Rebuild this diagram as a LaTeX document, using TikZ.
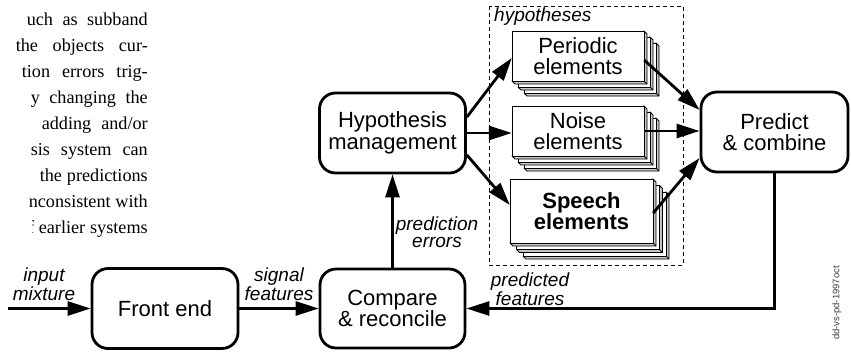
\documentclass[tikz,border=0pt]{standalone}
\usepackage{fontspec}
\setmainfont{Liberation Serif}
\setsansfont{Liberation Sans}
\usetikzlibrary{arrows.meta}
\newcommand\slab[4]{%
  \filldraw[fill=gray!45, line width=0.9pt, line join=round] (#3,#2) -- ++(3,3) -- ++(0,#4-#2) -- ++(#1-#3,0) -- (#1,#4) -- cycle;
  \draw[line width=0.9pt] (#3,#4) -- ++(3,3);
  \filldraw[fill=white, line width=0.9pt] (#1,#2) rectangle (#3,#4);}
\tikzset{
  rbox/.style={draw, line width=2.8pt, rounded corners=16pt, fill=white, font=\sffamily\fontsize{22}{21.5}\selectfont, align=center, inner sep=0pt},
  conn/.style={line width=2.8pt, -{Triangle[length=23pt,width=14pt]}},
  lbl/.style={font=\sffamily\itshape\fontsize{19}{16.5}\selectfont, align=center, inner sep=0pt},
  ftext/.style={font=\sffamily\fontsize{22}{21.5}\selectfont, align=center, inner sep=0pt},
  ptext/.style={font=\fontsize{18.2}{22}\selectfont, anchor=base east, inner sep=0pt}
}
\begin{document}
\begin{tikzpicture}[x=1pt,y=-1pt]
\fill[white] (0,0) rectangle (851,354);
\useasboundingbox (0,0) rectangle (851,354);
% paragraph fragment
\node[ptext] (t1) at (148,25) {\makebox[121pt][s]{uch as subband}};
\node[ptext] (t2) at (148,51) {\makebox[132pt][s]{the objects cur-}};
\node[ptext] (t3) at (148,77) {\makebox[126pt][s]{tion errors trig-}};
\node[ptext] (t4) at (148,103) {\makebox[117pt][s]{y changing the}};
\node[ptext] (t5) at (148,129) {\makebox[106pt][s]{adding and/or}};
\node[ptext] (t6) at (148,155) {\makebox[117pt][s]{sis system can}};
\node[ptext] (t7) at (148,181) {\makebox[108pt][s]{the predictions}};
\node[ptext] (t8) at (148,207) {\makebox[119pt][s]{nconsistent with}};
\node[ptext] (t9) at (148,233) {\makebox[109pt][s]{earlier systems}};
\begin{scope}
\clip (32,212) rectangle (38,236);
\node[ptext] (t9f) at (34.5,233) {f};
\end{scope}
% main boxes
\node[rbox, minimum width=146pt, minimum height=80pt] (fe) at (165,308.5) {Front end};
\node[rbox, minimum width=145pt, minimum height=79pt] (cmp) at (392.5,308.5) {Compare\\\& reconcile};
\node[rbox, minimum width=146pt, minimum height=80pt] (hyp) at (392.5,133) {Hypothesis\\management};
\node[rbox, minimum width=147pt, minimum height=80pt] (pc) at (774.5,132) {Predict\\\& combine};
% hypotheses group
\draw[line width=0.8pt, dash pattern=on 4pt off 3pt] (489,6) rectangle (683,265);
\node[lbl, anchor=west] (hyptitle) at (494,16.5) {hypotheses};
\slab{524}{43}{656}{93}
\slab{518}{37}{650}{87}
\slab{512}{31}{644}{81}
\node[ftext, minimum width=132pt, minimum height=50pt] (per) at (578,56) {Periodic\\elements};
\slab{524}{118}{656}{168}
\slab{518}{112}{650}{162}
\slab{512}{106}{644}{156}
\node[ftext, minimum width=132pt, minimum height=50pt] (nz) at (578,131) {Noise\\elements};
\slab{523}{192}{666}{256}
\slab{516.5}{185.5}{659.5}{249.5}
\slab{510}{179}{653}{243}
\node[ftext, font=\sffamily\bfseries\fontsize{22}{21.5}\selectfont, minimum width=143pt, minimum height=64pt] (sp) at (581.5,211) {Speech\\elements};
% connectors
\coordinate (in) at (8,308.5);
\draw[conn] (in) -- (fe.west);
\draw[conn] (fe.east) -- (cmp.west);
\draw[conn] (cmp.north) -- (hyp.south);
\draw[conn] ([yshift=16pt]hyp.east) -- ([yshift=-2pt]per.west);
\draw[conn] (hyp.east) -- (hyp.east -| nz.west);
\draw[conn] ([yshift=-22pt]hyp.east) -- ([yshift=6pt]sp.west);
\draw[conn] ([yshift=-4pt]per.east) -- ([yshift=22pt]pc.west);
\draw[conn] (nz.east) -- (nz.east -| pc.west);
\draw[conn] ([yshift=-2pt]sp.east) -- ([yshift=-26pt]pc.west);
\draw[conn] (pc.south) |- (cmp.east);
% labels
\node[lbl] (inl) at (44,284.5) {input\\mixture};
\node[lbl] (sfl) at (279,284.5) {signal\\features};
\node[lbl] (pel) at (437,232) {prediction\\errors};
\node[lbl] (pfl) at (530,289.5) {predicted\\features};
\node[font=\sffamily\fontsize{9.5}{10}\selectfont, text=black!75, rotate=90, inner sep=0pt] (tag) at (837,303) {dd-vs-pd-1997oct};
\end{tikzpicture}
\end{document}
